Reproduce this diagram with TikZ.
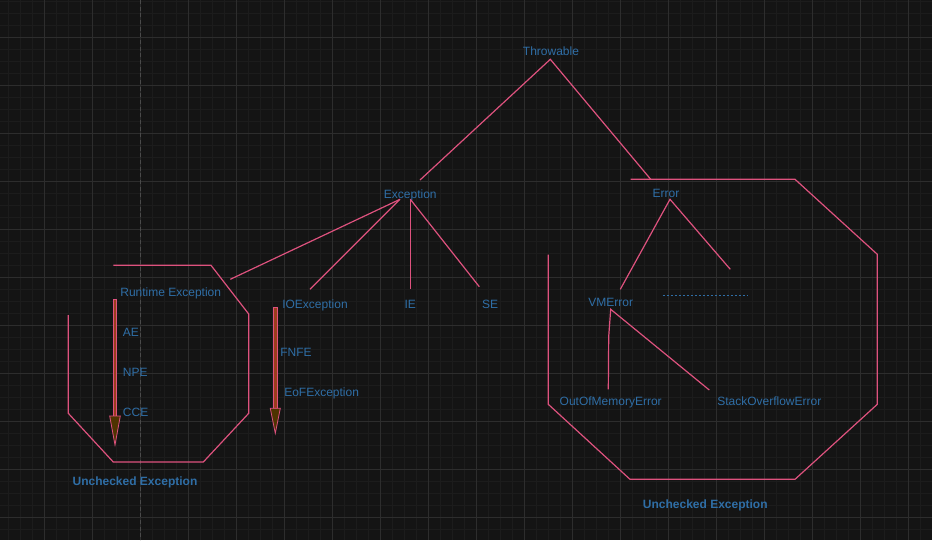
\documentclass[tikz,border=0pt]{standalone}
\usepackage{fontspec}
\usetikzlibrary{calc}
\setmainfont{Liberation Sans}
\definecolor{bgc}{HTML}{141414}
\definecolor{gridminor}{HTML}{1C1C1C}
\definecolor{gridmajor}{HTML}{2D2D2D}
\definecolor{axisc}{HTML}{4A4A4A}
\definecolor{txt}{HTML}{2F6EA6}
\definecolor{edge}{HTML}{DE527E}
\definecolor{shaft}{HTML}{9A3D1C}
\definecolor{headc}{HTML}{4E3300}
\tikzset{
  lbl/.style={text=txt, font=\fontsize{9}{10}\selectfont, inner sep=0pt, anchor=base},
  lbll/.style={lbl, anchor=base west},
  grp/.style={text=txt, font=\fontsize{9}{10}\selectfont\bfseries, inner sep=0pt, anchor=base},
  link/.style={draw=edge, line width=0.9pt},
  bound/.style={draw=edge, line width=0.9pt, line join=miter},
  fatarrow/.style={draw=edge, line width=0.6pt, fill=shaft},
  fathead/.style={draw=edge, line width=0.6pt, fill=headc, line join=miter},
}
\begin{document}
\begin{tikzpicture}[x=0.75pt, y=-0.75pt]
  % canvas and grid
  \fill[bgc] (0,0) rectangle (932,540);
  \useasboundingbox (0,0) rectangle (932,540);
  \foreach \gx in {8.3,20.3,...,932} \draw[gridminor, line width=0.5pt] (\gx,0) -- (\gx,540);
  \foreach \gy in {1.3,13.3,...,540} \draw[gridminor, line width=0.5pt] (0,\gy) -- (932,\gy);
  \foreach \gx in {44.3,92.3,...,932} \draw[gridmajor, line width=0.75pt] (\gx,0) -- (\gx,540);
  \foreach \gy in {37.3,85.3,...,540} \draw[gridmajor, line width=0.75pt] (0,\gy) -- (932,\gy);
  \draw[axisc, line width=0.6pt, dash pattern=on 3pt off 2pt] (140.3,0) -- (140.3,540);

  % labels
  \node[lbl] (throwable) at (551,55.3) {Throwable};
  \node[lbl] (exception) at (410.3,198.3) {Exception};
  \node[lbl] (error) at (666,197.6) {Error};
  \node[lbl] (runtime) at (170.7,296) {Runtime Exception};
  \node[lbl] (ioexc) at (315,308.3) {IOException};
  \node[lbl] (ie) at (410.3,308.3) {IE};
  \node[lbl] (se) at (490,308.3) {SE};
  \node[lbl] (vmerror) at (610.7,306) {VMError};
  \node[lbl] (oom) at (610.7,405.6) {OutOfMemoryError};
  \node[lbl] (soe) at (769.3,405.6) {StackOverflowError};
  \node[lbll] (ae) at (122.7,336) {AE};
  \node[lbll] (npe) at (122.7,376) {NPE};
  \node[lbll] (cce) at (122.7,416) {CCE};
  \node[lbll] (fnfe) at (280,356) {FNFE};
  \node[lbll] (eof) at (284,396) {EoFException};
  \node[grp] (uncheckedA) at (135,485) {Unchecked Exception};
  \node[grp] (uncheckedB) at (705.3,508.6) {Unchecked Exception};

  % connector end points
  \coordinate (thr-b) at (550.3,59.3);
  \coordinate (exc-top) at (420,180);
  \coordinate (err-top) at (650.7,179.3);
  \coordinate (exc-a) at (400,199.3);
  \coordinate (exc-b) at (410.3,199.3);
  \coordinate (rt-end) at (230.3,279.3);
  \coordinate (io-end) at (310,289.3);
  \coordinate (ie-end) at (410.3,289.3);
  \coordinate (se-end) at (479.3,286.7);
  \coordinate (err-b) at (670,199.3);
  \coordinate (vm-end) at (620.3,289.3);
  \coordinate (more-end) at (730.3,269.3);
  \coordinate (dots-a) at (662.7,295.3);
  \coordinate (dots-b) at (748.3,295.3);
  \coordinate (vm-b) at (610.7,309.3);
  \coordinate (oom-bend) at (608.7,336.7);
  \coordinate (oom-end) at (608.3,389.3);
  \coordinate (soe-end) at (709.3,390);

  % hierarchy lines
  \draw[link] (exc-top) -- (thr-b) -- (err-top);
  \draw[link] (exc-a) -- (rt-end);
  \draw[link] (exc-a) -- (io-end);
  \draw[link] (exc-b) -- (ie-end);
  \draw[link] (exc-b) -- (se-end);
  \draw[link] (vm-end) -- (err-b) -- (more-end);
  \draw[txt, line width=0.8pt, dash pattern=on 1.6pt off 1.4pt] (dots-a) -- (dots-b);
  \draw[link] (soe-end) -- (vm-b) -- (oom-bend) -- (oom-end);

  % group outlines
  \draw[bound] (68.3,315) -- (68.3,413.3) -- (113.3,462) -- (203.3,462)
    -- (248.7,413.3) -- (248.7,314) -- (211,265.3) -- (113.3,265.3);
  \draw[bound] (548.3,254.7) -- (548.3,404.3) -- (630,479.3) -- (795,479.3)
    -- (877.3,404.3) -- (877.3,254.3) -- (795,179.3) -- (630.7,179.3);

  % downward arrows
  \coordinate (arA-top) at (115,299.3);
  \coordinate (arA-neck) at (115,416);
  \coordinate (arA-tip) at (115,445);
  \draw[fatarrow] ($(arA-top)+(-1.7,0)$) rectangle ($(arA-neck)+(1.7,0)$);
  \draw[fathead] ($(arA-neck)+(-5.3,0)$) -- ($(arA-neck)+(5.3,0)$) -- (arA-tip) -- cycle;
  \coordinate (arB-top) at (275.3,307.3);
  \coordinate (arB-neck) at (275.3,408.3);
  \coordinate (arB-tip) at (275.3,433.3);
  \draw[fatarrow] ($(arB-top)+(-1.7,0)$) rectangle ($(arB-neck)+(1.7,0)$);
  \draw[fathead] ($(arB-neck)+(-5,0)$) -- ($(arB-neck)+(5,0)$) -- (arB-tip) -- cycle;
\end{tikzpicture}
\end{document}
